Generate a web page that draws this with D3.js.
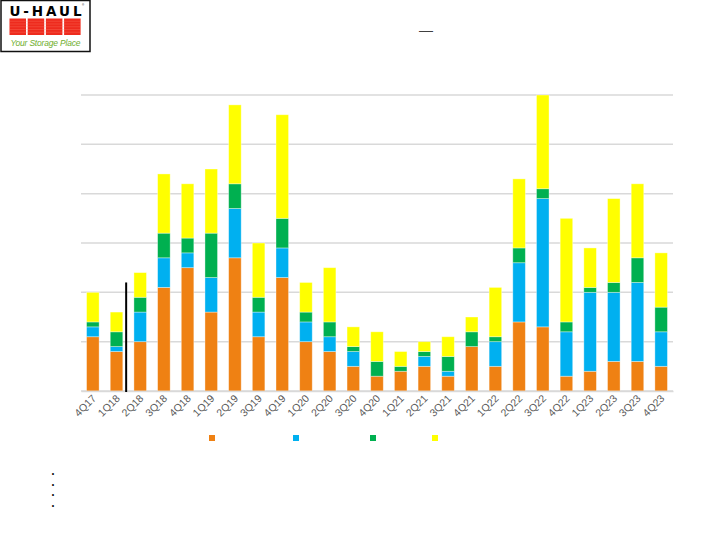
<!DOCTYPE html>
<html>
<head>
<meta charset="utf-8">
<script src="https://cdn.jsdelivr.net/npm/d3@7/dist/d3.min.js"></script>
<style>
  body { margin: 0; background: #fff; }
  svg { display: block; font-family: "Liberation Sans", Arial, sans-serif; }
</style>
</head>
<body>
<svg id="chart" width="720" height="540"></svg>
<script>
// quarters on the x axis
const quarters = ['4Q17', '1Q18', '2Q18', '3Q18', '4Q18', '1Q19', '2Q19', '3Q19', '4Q19',
    '1Q20', '2Q20', '3Q20', '4Q20', '1Q21', '2Q21', '3Q21', '4Q21', '1Q22', '2Q22',
    '3Q22', '4Q22', '1Q23', '2Q23', '3Q23', '4Q23'];

// stacked series, bottom to top
const orangeVals = [11, 8, 10, 21, 25, 16, 27, 11, 23, 10, 8, 5, 3, 4, 5, 3, 9, 5, 14, 13, 3, 4, 6, 6, 5];
const blueVals   = [2, 1, 6, 6, 3, 7, 10, 5, 6, 4, 3, 3, 0, 0, 2, 1, 0, 5, 12, 26, 9, 16, 14, 16, 7];
const greenVals  = [1, 3, 3, 5, 3, 9, 5, 3, 6, 2, 3, 1, 3, 1, 1, 3, 3, 1, 3, 2, 2, 1, 2, 5, 5];
const yellowVals = [6, 4, 5, 12, 11, 13, 16, 11, 21, 6, 11, 4, 6, 3, 2, 4, 3, 10, 14, 19, 21, 8, 17, 15, 11];

const yTicks = [0, 10, 20, 30, 40, 50, 60];
const markerQuarter = '1Q18';   // black divider after this bar
const markerTop = 22;

const keys = ['orange', 'blue', 'green', 'yellow'];
const colors = { orange: '#EF8113', blue: '#00B0F0', green: '#00B050', yellow: '#FFFF00' };

const rows = quarters.map((q, i) => ({
    q, orange: orangeVals[i], blue: blueVals[i], green: greenVals[i], yellow: yellowVals[i]
}));

const svg = d3.select('#chart');
const margin = { top: 95, left: 81, right: 47, bottom: 149 };
const width = 720 - margin.left - margin.right;
const height = 540 - margin.top - margin.bottom;

const g = svg.append('g').attr('transform', `translate(${margin.left},${margin.top})`);

const x = d3.scaleBand().domain(quarters).range([0, width]).paddingInner(0.47).paddingOuter(0.235);
const y = d3.scaleLinear().domain([0, 60]).range([height, 0]);

// gridlines
g.append('g')
    .selectAll('line')
    .data(yTicks)
    .enter()
    .append('line')
    .attr('x1', 0)
    .attr('x2', width)
    .attr('y1', d => y(d))
    .attr('y2', d => y(d))
    .attr('stroke', '#d9d9d9')
    .attr('stroke-width', 1.5);

// stacked bars
const stack = d3.stack().keys(keys)(rows);

g.append('g')
    .selectAll('g')
    .data(stack)
    .enter()
    .append('g')
    .attr('fill', d => colors[d.key])
    .selectAll('rect')
    .data(d => d.filter(s => s[1] > s[0]))
    .enter()
    .append('rect')
    .attr('x', d => x(d.data.q))
    .attr('y', d => y(d[1]))
    .attr('width', x.bandwidth())
    .attr('height', d => y(d[0]) - y(d[1]))
    .attr('stroke', 'rgba(255,255,255,0.45)')
    .attr('stroke-width', 0.8);

// x axis
const xAxis = g.append('g')
    .attr('transform', `translate(0,${height})`)
    .call(d3.axisBottom(x).tickSize(0).tickPadding(0));
xAxis.select('.domain').attr('stroke', '#d9d9d9').attr('stroke-width', 1.5);
xAxis.selectAll('text')
    .attr('fill', '#595959')
    .style('font-size', '10.5px')
    .attr('text-anchor', 'end')
    .attr('dy', 0)
    .attr('transform', 'translate(4,8) rotate(-45)');

// black divider line
const mx = x(markerQuarter) + x.bandwidth() + (x.step() - x.bandwidth()) / 2 - 2.2;
g.append('line')
    .attr('x1', mx)
    .attr('x2', mx)
    .attr('y1', y(markerTop))
    .attr('y2', y(0) + 1)
    .attr('stroke', '#000')
    .attr('stroke-width', 2);

// legend markers
const legendX = [209, 293, 370, 432];
svg.append('g')
    .selectAll('rect')
    .data(keys)
    .enter()
    .append('rect')
    .attr('x', (d, i) => legendX[i])
    .attr('y', 435)
    .attr('width', 6)
    .attr('height', 6)
    .attr('fill', d => colors[d]);

// title dash
svg.append('text')
    .attr('x', 426)
    .attr('y', 35)
    .attr('text-anchor', 'middle')
    .attr('fill', '#404040')
    .style('font-size', '14px')
    .text('—');

// empty bullet list
svg.append('g')
    .selectAll('text')
    .data([473, 484, 494.5, 505.5])
    .enter()
    .append('text')
    .attr('x', 53)
    .attr('y', d => d + 2.5)
    .attr('text-anchor', 'middle')
    .attr('fill', '#000')
    .style('font-size', '7px')
    .text('•');

// logo
const logo = svg.append('g');
logo.append('rect')
    .attr('x', 1).attr('y', 0.5)
    .attr('width', 89).attr('height', 51)
    .attr('fill', '#fff').attr('stroke', '#111').attr('stroke-width', 1.5);
logo.append('text')
    .attr('x', 45.5).attr('y', 15.5)
    .attr('text-anchor', 'middle')
    .attr('fill', '#000')
    .style('font-family', '"DejaVu Sans", sans-serif')
    .style('font-weight', 'bold')
    .style('font-size', '13.5px')
    .attr('textLength', 72)
    .text('U-HAUL');
logo.append('text')
    .attr('x', 82).attr('y', 6)
    .attr('fill', '#000')
    .style('font-size', '3px')
    .text('®');
const doors = [0, 1, 2, 3];
logo.append('g')
    .selectAll('rect')
    .data(doors)
    .enter()
    .append('rect')
    .attr('x', d => 9.5 + d * 18.2)
    .attr('y', 18.5)
    .attr('width', 16.5)
    .attr('height', 16.5)
    .attr('fill', '#ee2b1e');
logo.append('g')
    .selectAll('line')
    .data(d3.range(1, 6))
    .enter()
    .append('line')
    .attr('x1', 9.5).attr('x2', 81)
    .attr('y1', d => 18.5 + d * 2.75)
    .attr('y2', d => 18.5 + d * 2.75)
    .attr('stroke', 'rgba(255,140,120,0.55)')
    .attr('stroke-width', 0.5);
logo.append('text')
    .attr('x', 45.5).attr('y', 45.5)
    .attr('text-anchor', 'middle')
    .attr('fill', '#6fae2c')
    .style('font-style', 'italic')
    .style('font-size', '8.5px')
    .attr('textLength', 70)
    .text('Your Storage Place');
</script>
</body>
</html>
